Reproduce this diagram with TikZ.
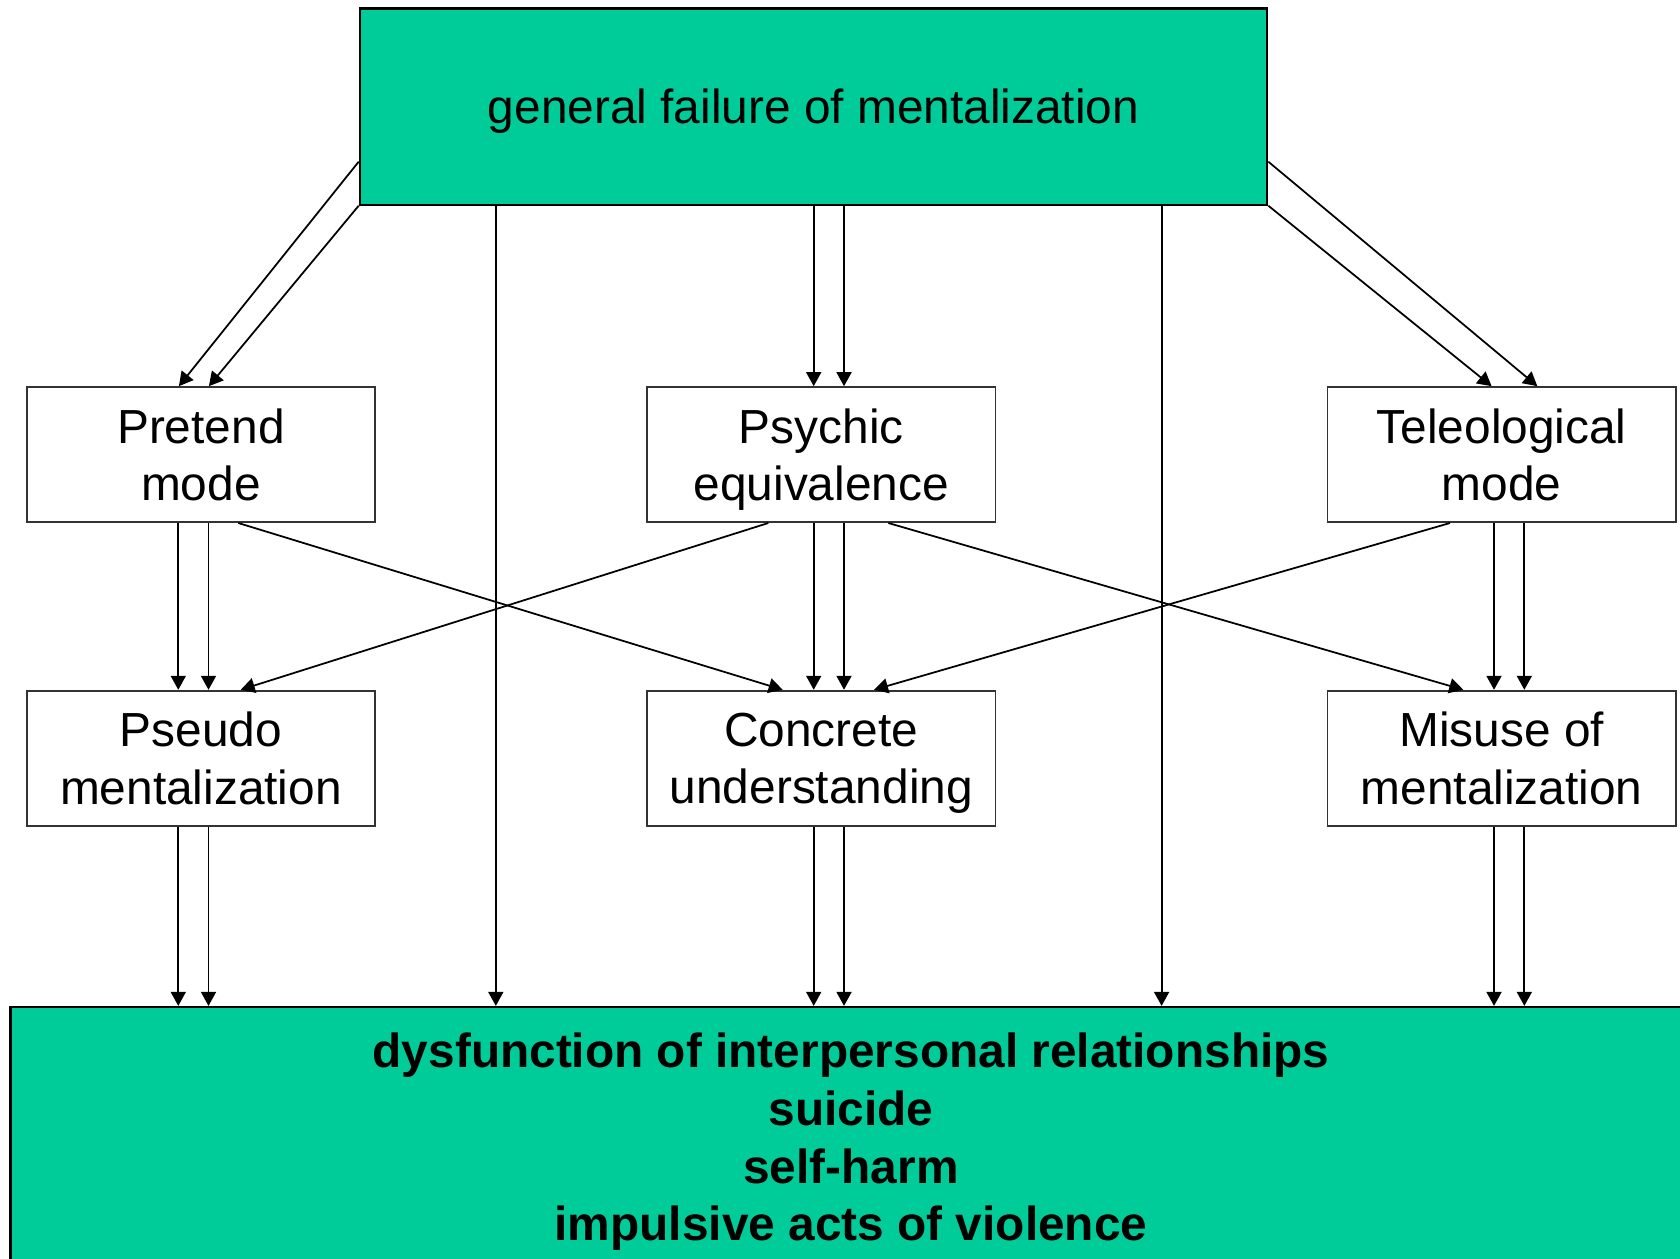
\documentclass[tikz,border=0pt]{standalone}
\usepackage{fontspec}
\setmainfont{Liberation Sans}
\usetikzlibrary{arrows.meta}
\definecolor{mentgreen}{HTML}{00CC99}

\begin{document}
\begin{tikzpicture}[x=0.01cm, y=-0.01cm,
        modo/.style={draw=black!80, line width=0.5pt, minimum width=3.48cm, minimum height=1.35cm,
            inner sep=0pt, text depth=0pt, align=center, font=\fontsize{13.6}{16.3}\selectfont},
        verde/.style={draw=black, line width=0.6pt, fill=mentgreen, inner sep=0pt, text depth=0pt, align=center},
        freccia/.style={-{Triangle[length=0.14cm, width=0.15cm]}, line width=0.5pt}]
    \useasboundingbox (0,0) rectangle (1680,1258);

        % Nodi
        \node[verde, minimum width=9.07cm, minimum height=1.96cm, font=\fontsize{13.6}{16.3}\selectfont] (F) at (813.5,106.6) {general failure of mentalization};
        \node[modo] (P) at (200.9,454.6) {Pretend\\mode};
        \node[modo] (E) at (821.3,454.6) {Psychic\\equivalence};
        \node[modo] (T) at (1501.6,454.6) {Teleological\\mode};
        \node[modo] (S) at (200.9,758.2) {Pseudo\\mentalization};
        \node[modo] (C) at (821.3,758.2) {Concrete\\understanding};
        \node[modo] (M) at (1501.6,758.2) {Misuse of\\mentalization};
        \node[verde, minimum width=16.8cm, minimum height=2.6cm, font=\bfseries\fontsize{13.6}{16.4}\selectfont] (D) at (851,1137)
            {dysfunction of interpersonal relationships\\suicide\\self-harm\\impulsive acts of violence};

        % Archi
        \draw[freccia] ([yshift=0.44cm]F.south west) -- ([xshift=-0.22cm]P.north); % da F a P
        \draw[freccia] (F.south west) -- ([xshift=0.08cm]P.north);
        \draw[freccia] ([xshift=-0.076cm]E.north |- F.south) -- ([xshift=-0.076cm]E.north); % da F a E
        \draw[freccia] ([xshift=0.227cm]E.north |- F.south) -- ([xshift=0.227cm]E.north);
        \draw[freccia] (F.south east) -- ([xshift=-0.1cm]T.north); % da F a T
        \draw[freccia] ([yshift=0.44cm]F.south east) -- ([xshift=0.357cm]T.north);
        \draw[freccia] ([xshift=-3.175cm]F.south) -- ([xshift=-3.175cm]F.south |- D.north); % da F a D
        \draw[freccia] ([xshift=3.479cm]F.south) -- ([xshift=3.479cm]F.south |- D.north);

        \draw[freccia] ([xshift=-0.226cm]P.south) -- ([xshift=-0.226cm]S.north); % da P a S
        \draw[freccia] ([xshift=0.076cm]P.south) -- ([xshift=0.076cm]S.north);
        \draw[freccia] ([xshift=0.374cm]P.south) -- ([xshift=-0.386cm]C.north); % da P a C
        \draw[freccia] ([xshift=-0.53cm]E.south) -- ([xshift=0.398cm]S.north); % da E a S
        \draw[freccia] ([xshift=-0.076cm]E.south) -- ([xshift=-0.076cm]C.north); % da E a C
        \draw[freccia] ([xshift=0.227cm]E.south) -- ([xshift=0.227cm]C.north);
        \draw[freccia] ([xshift=0.67cm]E.south) -- ([xshift=-0.383cm]M.north); % da E a M
        \draw[freccia] ([xshift=-0.516cm]T.south) -- ([xshift=0.527cm]C.north); % da T a C
        \draw[freccia] ([xshift=-0.076cm]T.south) -- ([xshift=-0.076cm]M.north); % da T a M
        \draw[freccia] ([xshift=0.227cm]T.south) -- ([xshift=0.227cm]M.north);

        \draw[freccia] ([xshift=-0.226cm]S.south) -- ([xshift=-0.226cm]S.south |- D.north); % da S a D
        \draw[freccia] ([xshift=0.076cm]S.south) -- ([xshift=0.076cm]S.south |- D.north);
        \draw[freccia] ([xshift=-0.076cm]C.south) -- ([xshift=-0.076cm]C.south |- D.north); % da C a D
        \draw[freccia] ([xshift=0.227cm]C.south) -- ([xshift=0.227cm]C.south |- D.north);
        \draw[freccia] ([xshift=-0.076cm]M.south) -- ([xshift=-0.076cm]M.south |- D.north); % da M a D
        \draw[freccia] ([xshift=0.227cm]M.south) -- ([xshift=0.227cm]M.south |- D.north);

    \end{tikzpicture}
\end{document}
